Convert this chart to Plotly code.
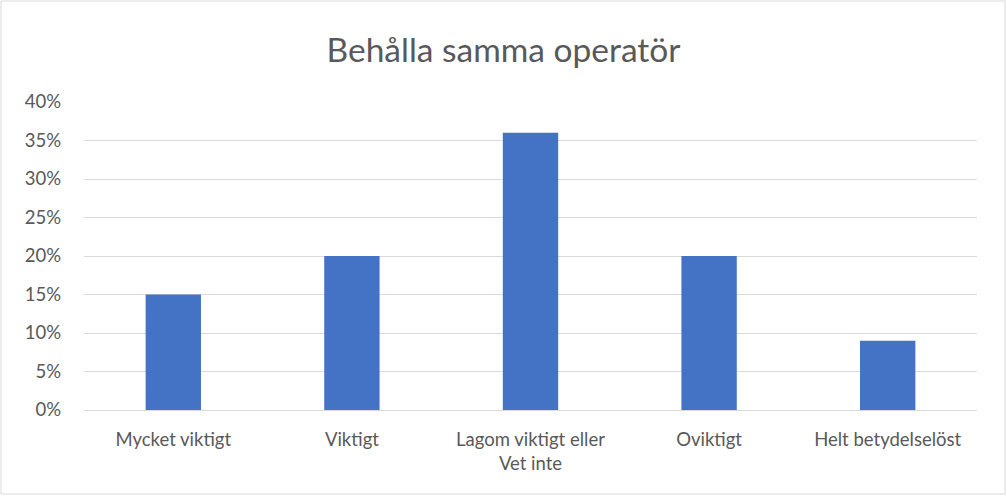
import plotly.graph_objects as go

categories = ["Mycket viktigt", "Viktigt", "Lagom viktigt eller<br>Vet inte", "Oviktigt", "Helt betydelselöst"]
values = [0.15, 0.20, 0.36, 0.20, 0.09]
tick_vals = [0, 0.05, 0.10, 0.15, 0.20, 0.25, 0.30, 0.35, 0.40]
tick_text = ["0%", "5%", "10%", "15%", "20%", "25%", "30%", "35%", "40%"]
title = "Behålla samma operatör"

W, H = 1007, 496
ml, mr, mt, mb = 84, 30, 102, 86
pw, ph = W - ml - mr, H - mt - mb

fig = go.Figure(go.Bar(x=categories, y=values, marker=dict(color="#4472C4", line=dict(width=0))))

fig.update_layout(
    width=W, height=H,
    margin=dict(l=ml, r=mr, t=mt, b=mb),
    paper_bgcolor="white", plot_bgcolor="white",
    bargap=0.69,
    font=dict(family="Lato, Open Sans, sans-serif", color="#595959", size=18),
    title=dict(text=title, x=0.5, xanchor="center", y=1 - 50 / H, yanchor="middle",
               font=dict(size=33.5, color="#595959")),
    showlegend=False,
    xaxis=dict(showgrid=False, showline=True, linecolor="#d9d9d9", linewidth=1,
               ticks="", tickfont=dict(size=18.5), ticklabelstandoff=13),
    yaxis=dict(range=[0, 0.40], tickvals=tick_vals, ticktext=tick_text,
               showgrid=True, gridcolor="#d9d9d9", gridwidth=1, zeroline=False,
               showline=False, ticks="", tickfont=dict(size=18.5), ticklabelstandoff=22),
)

# outer chart border
fig.add_shape(type="rect", xref="paper", yref="paper",
              x0=(1 - ml) / pw, x1=(W - 2 - ml) / pw,
              y0=-(H - 2 - mt - ph) / ph, y1=1 + (mt - 1) / ph,
              line=dict(color="#d9d9d9", width=1), fillcolor="rgba(0,0,0,0)", layer="below")

fig.write_html("out.html", config={"displayModeBar": False},
               post_script="document.body.style.margin='0';document.body.style.overflow='hidden';")
